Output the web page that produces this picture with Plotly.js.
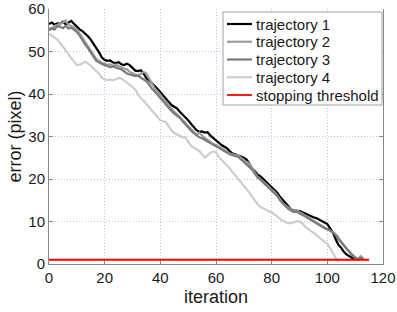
<!DOCTYPE html>
<html><head><meta charset="utf-8">
<script src="https://cdn.plot.ly/plotly-3.0.1.min.js"></script>
<style>html,body{margin:0;padding:0;background:#fff}#chart{width:397px;height:312px}</style>
</head><body><div id="chart"></div>
<script>
const traj1 = [56.5,56.8,56.3,56.6,56.5,57.0,56.4,56.8,57.2,56.5,55.8,55.2,54.8,54.3,53.6,52.8,51.8,51.0,49.8,48.6,48.0,47.8,47.9,47.4,47.3,47.5,47.0,46.8,47.1,46.8,46.2,45.5,45.4,45.6,44.8,43.7,43.2,42.6,41.8,41.2,40.4,39.6,39.0,38.0,37.4,37.0,36.6,35.8,35.2,34.5,33.8,33.0,32.2,31.5,31.1,31.2,30.9,31.0,30.2,29.6,29.2,28.6,28.0,27.6,27.2,26.5,26.0,25.8,25.6,25.3,25.0,24.6,23.6,22.4,21.8,21.0,20.6,20.0,19.4,18.8,18.2,17.6,16.8,15.8,15.1,14.5,13.6,12.8,12.6,12.4,12.5,12.2,11.8,11.6,11.2,11.0,10.8,10.4,10.1,9.7,9.4,8.4,7.4,5.8,4.5,3.8,2.8,2.2,1.8,1.4,1.0];
const traj2 = [55.5,55.3,56.0,56.2,56.5,56.8,57.3,56.2,56.0,55.6,55.2,54.2,53.2,52.2,51.2,50.2,49.0,48.2,47.8,47.3,47.2,46.8,47.0,46.6,46.9,46.5,46.3,46.0,45.8,45.2,44.8,44.6,44.4,44.7,45.2,44.8,43.6,42.4,41.3,40.6,39.8,38.8,38.0,37.2,36.4,35.8,35.2,34.6,33.9,33.2,32.4,31.8,31.0,30.4,30.9,30.2,29.6,29.2,28.6,28.2,28.0,27.6,27.0,26.6,26.2,26.0,25.8,25.7,25.6,25.0,24.4,24.0,23.6,22.6,21.4,20.5,19.9,19.4,18.8,18.2,17.5,17.0,16.2,15.2,14.3,13.8,13.2,12.8,12.5,12.7,12.2,11.9,11.4,11.0,10.4,10.0,9.6,9.3,8.9,8.5,8.2,7.8,7.5,7.0,6.2,5.2,4.4,3.6,2.8,2.2,1.6,1.2,1.8,1.2];
const traj3 = [55.0,55.4,55.2,56.0,55.8,55.5,56.0,55.4,55.6,55.2,54.6,53.8,52.6,51.6,50.8,49.8,48.6,47.8,47.4,47.0,46.8,46.6,46.3,46.5,46.2,46.0,45.8,45.2,44.8,44.6,44.4,44.2,44.3,43.9,43.6,43.0,42.2,41.2,40.6,39.8,39.0,38.2,37.6,36.8,36.0,35.4,34.9,34.4,33.6,32.8,32.0,31.4,30.8,30.2,29.8,29.6,29.2,28.9,28.4,28.1,27.8,27.3,26.8,26.4,26.0,25.8,25.6,25.4,25.2,24.6,24.0,23.6,23.0,22.2,21.2,20.3,19.8,19.2,18.6,18.0,17.4,16.8,16.0,15.0,14.2,13.6,13.0,12.6,12.2,12.3,12.0,11.6,11.2,10.8,10.2,9.8,9.5,9.2,8.8,8.4,8.2,7.9,7.4,6.8,5.8,5.0,4.2,3.4,2.6,2.0,1.5,1.0,1.5,1.0];
const traj4 = [54.2,53.8,53.2,52.8,52.0,51.2,50.4,49.4,48.4,47.6,46.8,46.9,47.2,47.6,47.2,46.6,46.0,45.6,44.8,43.8,43.4,43.2,43.4,43.2,43.5,43.8,43.6,43.2,42.8,42.2,41.6,41.0,40.0,39.0,38.4,37.6,36.8,36.2,35.4,34.4,33.8,33.6,33.4,32.4,31.4,30.8,30.4,30.2,29.8,29.8,28.8,27.8,27.4,27.0,26.6,25.8,25.0,25.6,26.2,26.5,26.3,25.2,24.4,23.8,23.2,22.4,21.8,21.0,20.2,19.4,18.6,17.8,16.8,15.8,14.8,14.0,13.4,13.0,12.6,12.4,12.2,11.8,11.2,10.6,10.1,9.8,9.6,9.6,9.8,10.1,10.0,9.6,8.8,8.2,7.8,7.4,6.8,6.2,5.6,5.2,4.8,3.8,2.6,1.4,0.6];
const threshX = [0, 115];
const threshY = [1, 1];
const names = ['trajectory 1','trajectory 2','trajectory 3','trajectory 4','stopping threshold'];
const colors = ['#000000','#9c9c9c','#7a7a7a','#cdcdcd','#ff0000'];

const iters = a => a.map((_, i) => i);
const series = [traj1, traj2, traj3, traj4];
const widths = [2.2, 2.2, 2.2, 2.2, 1.8];
const traces = series.map((s, k) => ({
  x: iters(s), y: s, type: 'scatter', mode: 'lines', name: names[k],
  line: {color: colors[k], width: widths[k]}
}));
traces.push({x: threshX, y: threshY, type: 'scatter', mode: 'lines', name: names[4],
  line: {color: colors[4], width: widths[4]}});

const font = {family: 'Liberation Sans, Arial, sans-serif', color: '#1a1a1a'};
const grid = 'rgba(165,165,235,0.7)';

// compact legend (paper coordinates)
const W = 397, H = 312, M = {l: 49, r: 14, t: 9, b: 48};
const pw = W - M.l - M.r, ph = H - M.t - M.b;
const px = v => (v - M.l) / pw, py = v => (H - M.b - v) / ph;
const legShapes = [{type: 'rect', xref: 'paper', yref: 'paper', layer: 'above',
  x0: px(223), x1: px(382), y0: py(105), y1: py(12),
  fillcolor: '#fff', line: {color: '#a0a0a0', width: 1}}];
const legAnn = [];
names.forEach((n, i) => {
  const yy = py(24 + i * 17.75);
  legShapes.push({type: 'line', xref: 'paper', yref: 'paper', layer: 'above',
    x0: px(227), x1: px(252), y0: yy, y1: yy, line: {color: colors[i], width: widths[i]}});
  legAnn.push({xref: 'paper', yref: 'paper', x: px(254), y: yy, xanchor: 'left', yanchor: 'middle',
    text: n, showarrow: false, font: Object.assign({size: 15}, font)});
});

const layout = {
  width: W, height: H, margin: M,
  paper_bgcolor: '#fff', plot_bgcolor: '#fff',
  font: Object.assign({size: 14}, font),
  showlegend: false,
  shapes: legShapes, annotations: legAnn,
  xaxis: {range: [0, 120], tickvals: [0,20,40,60,80,100,120],
    showline: true, linecolor: '#888', linewidth: 1, mirror: false,
    ticks: 'inside', ticklen: 4, tickcolor: '#888',
    showgrid: true, gridcolor: grid, griddash: '1px,2px', gridwidth: 1,
    zeroline: false, tickfont: Object.assign({size: 15}, font),
    title: {text: 'iteration', font: Object.assign({size: 18}, font), standoff: 5}},
  yaxis: {range: [0, 60], tickvals: [0,10,20,30,40,50,60],
    showline: true, linecolor: '#888', linewidth: 1, mirror: 'ticks',
    ticks: 'inside', ticklen: 4, tickcolor: '#888',
    showgrid: true, gridcolor: grid, griddash: '1px,2px', gridwidth: 1,
    zeroline: false, tickfont: Object.assign({size: 15}, font),
    title: {text: 'error (pixel)', font: Object.assign({size: 18}, font), standoff: 2}}
};
Plotly.newPlot('chart', traces, layout, {staticPlot: true, displayModeBar: false});
</script></body></html>
